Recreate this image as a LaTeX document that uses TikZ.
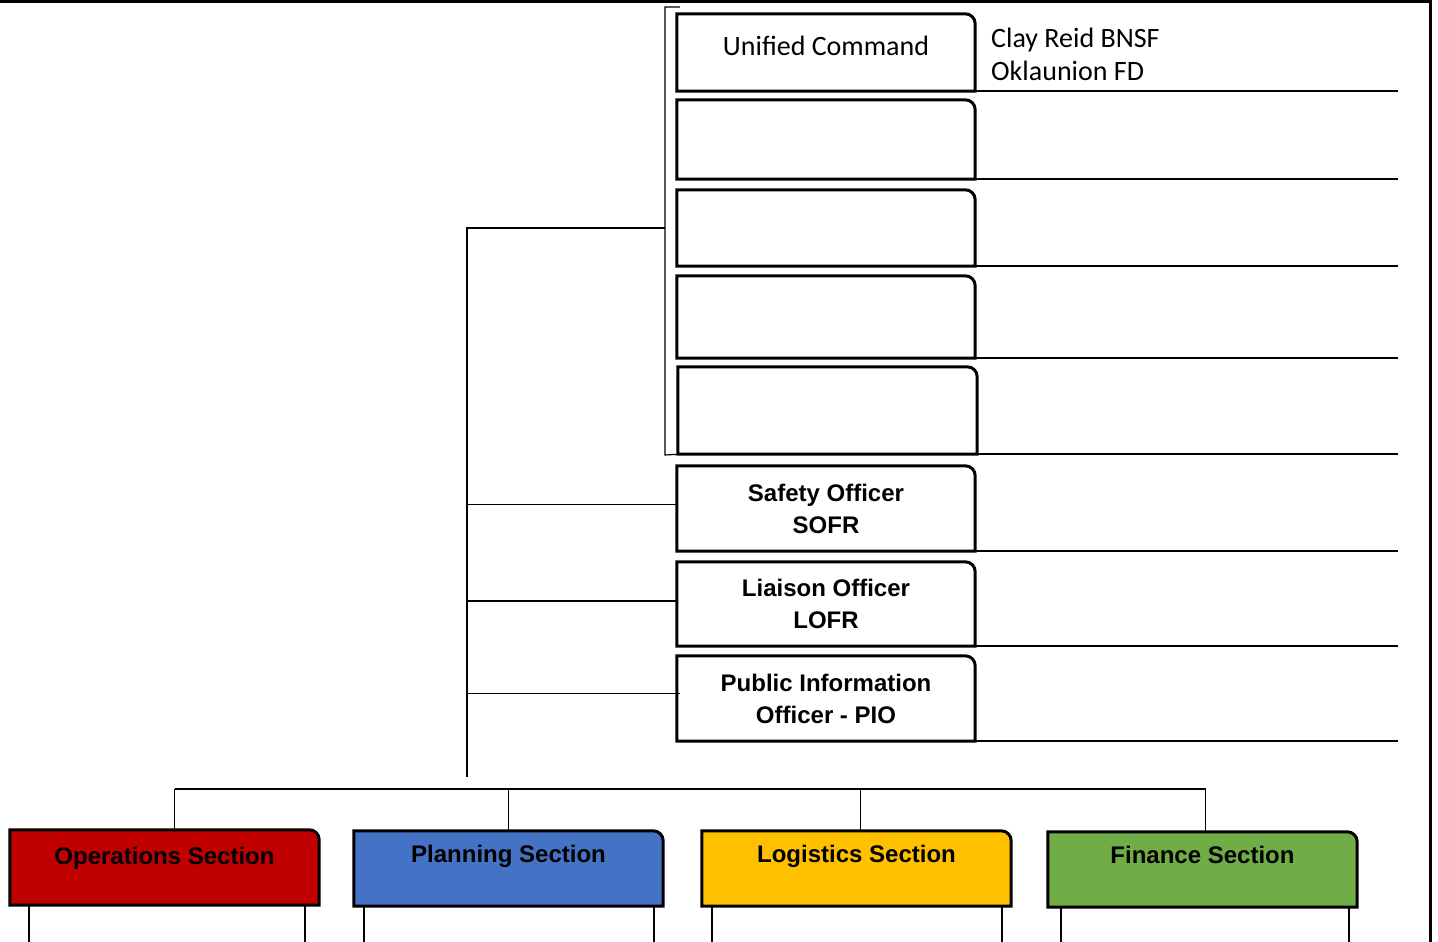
\documentclass[tikz,border=0pt]{standalone}
\usepackage{fontspec}
\setmainfont{Carlito}
\newfontfamily\headfont{Liberation Sans}
\usetikzlibrary{calc}
\pgfdeclarelayer{background}
\pgfsetlayers{background,main}

\definecolor{opsred}{HTML}{C00000}
\definecolor{planblue}{HTML}{4472C4}
\definecolor{logiyellow}{HTML}{FFC000}
\definecolor{fingreen}{HTML}{70AD47}

\tikzset{
    post/.style={minimum width=298pt, minimum height=#1, inner sep=0pt},
    officer/.style={font=\headfont\bfseries\fontsize{24}{32}\selectfont, align=center},
    section/.style={minimum width=309pt, inner sep=0pt, text height=32pt, text depth=43pt,
        font=\headfont\bfseries\fontsize{24}{28}\selectfont},
    boxline/.style={line width=3pt},
    link/.style={line width=1.2pt},
    rule/.style={line width=2pt},
}

% outline with one round corner (top right), drawn behind the node
\newcommand{\cornerbox}[2][white]{%
    \begin{pgfonlayer}{background}
        \draw[boxline, fill=#1] (#2.south west) -- (#2.north west)
            -- ([xshift=-10pt]#2.north east) arc[start angle=90, end angle=0, radius=10pt]
            -- (#2.south east) -- cycle;
    \end{pgfonlayer}}

\begin{document}
\begin{tikzpicture}[x=1pt, y=1pt]
    \useasboundingbox (0,0) rectangle (1438,942);
    \draw[line width=3pt] (0,940.5) -- (1430,940.5) -- (1430,0);

    % command staff
    \node[post=77pt, font=\fontsize{28}{33}\selectfont, text height=42pt, text depth=35pt] (uc) at (826,889.5) {Unified Command};
    \node[post=79pt] (ucb) at (826,802.5) {};
    \node[post=76pt] (ucc) at (826,714) {};
    \node[post=82pt] (ucd) at (826,625) {};
    \node[post=87pt, minimum width=299pt] (uce) at (827.5,531.5) {};
    \node[post=85pt, officer] (sofr) at (826,433.5) {Safety Officer\\SOFR};
    \node[post=84pt, officer] (lofr) at (826,338) {Liaison Officer\\LOFR};
    \node[post=85pt, officer] (pio) at (826,243.5) {Public Information\\Officer - PIO};
    \foreach \b in {uc,ucb,ucc,ucd,uce,sofr,lofr,pio}
        \cornerbox{\b};

    \node[anchor=north west, inner sep=0pt, align=left, font=\fontsize{28}{33}\selectfont]
        (ucnames) at (991,914) {Clay Reid BNSF\\Oklaunion FD};

    \coordinate (ruleend) at (1398,0);
    \foreach \b in {uc,ucb,ucc,ucd,uce,sofr,lofr,pio}
        \draw[rule] (\b.south east) -- (\b.south east -| ruleend);

    % bracket and trunk
    \coordinate (brk) at (665,714);
    \coordinate (trunk) at (467,714);
    \coordinate (trunkend) at (467,165);
    \draw[link] ([xshift=3pt]uc.north west |- 0,935) -- (665,935) -- (665,487) -- ([xshift=2pt]uce.south west);
    \draw[link] (brk) -- (trunk) -- (trunkend);
    \draw[link] ([yshift=4pt]sofr.west) -- ([yshift=4pt]sofr.west -| trunk);
    \draw[link] ([yshift=3pt]lofr.west) -- ([yshift=3pt]lofr.west -| trunk);
    \draw[link] ([yshift=5pt,xshift=3pt]pio.west) -- ([yshift=5pt]pio.west -| trunk);

    % sections
    \node[section, text height=35pt, text depth=40pt] (ops) at (164.5,74.5) {Operations Section};
    \node[section] (plan) at (508.5,73.5) {Planning Section};
    \node[section] (logi) at (856.5,73.5) {Logistics Section};
    \node[section] (fin) at (1202.5,72.5) {Finance Section};
    \cornerbox[opsred]{ops}
    \cornerbox[planblue]{plan}
    \cornerbox[logiyellow]{logi}
    \cornerbox[fingreen]{fin}

    \coordinate (bar) at (0,153);
    \draw[link] ([xshift=10pt]ops.north |- bar) -- ([xshift=3pt]fin.north |- bar);
    \foreach \s/\dx in {ops/10,plan/0,logi/4,fin/3}
        \draw[link] ([xshift=\dx pt]\s.north) -- ([xshift=\dx pt]\s.north |- bar);
    \foreach \s/\a/\b in {ops/19/14,plan/10/9,logi/10/9,fin/13/8} {
        \draw[rule] ([xshift=\a pt]\s.south west) -- ++(0,-40);
        \draw[rule] ([xshift=-\b pt]\s.south east) -- ++(0,-40);
    }
\end{tikzpicture}
\end{document}
